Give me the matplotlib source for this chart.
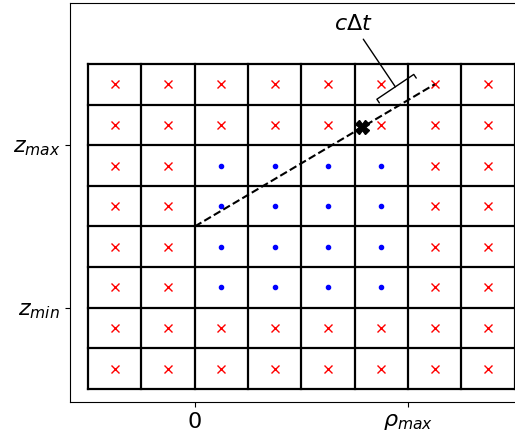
import numpy as np
import matplotlib
matplotlib.use('Agg')
import matplotlib.pyplot as plt

# cell edges of the computational grid (units of cell size)
r_edges = [-2, -1, 0, 1, 2, 3, 4, 5, 6]
z_edges = [-2, -1, 0, 1, 2, 3, 4, 5, 6]

# physical domain
r_min, r_max = 0, 4
z_min, z_max = 0, 4

# ray and the marked point on it
ray_r = [0.0, 4.5]
ray_z = [2.0, 5.5]
hit_r, hit_z = 3.14, 4.44

# c*dt bracket annotation
label_xy = (3.79, 5.38)
label_text_xy = (2.97, 6.98)


def main():
	fig = plt.figure(figsize=(5.15, 4.38), dpi=100)
	ax = fig.add_axes([0.1359, 0.0822, 0.905, 0.911])

	for r in r_edges:
		ax.plot([r, r], [z_edges[0], z_edges[-1]], 'k', lw=1.6)
	for z in z_edges:
		ax.plot([r_edges[0], r_edges[-1]], [z, z], 'k', lw=1.6)

	rc = (np.array(r_edges[:-1]) + np.array(r_edges[1:])) / 2
	zc = (np.array(z_edges[:-1]) + np.array(z_edges[1:])) / 2
	R, Z = np.meshgrid(rc, zc)
	inside = (R > r_min) & (R < r_max) & (Z > z_min) & (Z < z_max)

	ax.plot(R[~inside], Z[~inside], 'rx', ms=6)
	ax.plot(R[inside], Z[inside], 'b.', ms=6)

	ax.plot(ray_r, ray_z, 'k--', lw=1.5)
	ax.plot(hit_r, hit_z, 'kX', ms=10)

	ax.annotate(r'$c\Delta t$', xy=label_xy, xytext=label_text_xy,
				ha='center', va='center', fontsize=16,
				arrowprops=dict(arrowstyle='-[, widthB=1.0, lengthB=0.2', lw=1))

	ax.set_xlim(-2.34, 6.4)
	ax.set_ylim(-2.32, 7.5)
	ax.set_xticks([r_min, r_max])
	ax.set_xticklabels(['0', r'$\rho_{max}$'], fontsize=16)
	ax.set_yticks([z_min, z_max])
	ax.set_yticklabels([r'$z_{min}$', r'$z_{max}$'], fontsize=16)

	plt.savefig('out.png', dpi=100)
	plt.close()


if __name__ == "__main__":
	main()
